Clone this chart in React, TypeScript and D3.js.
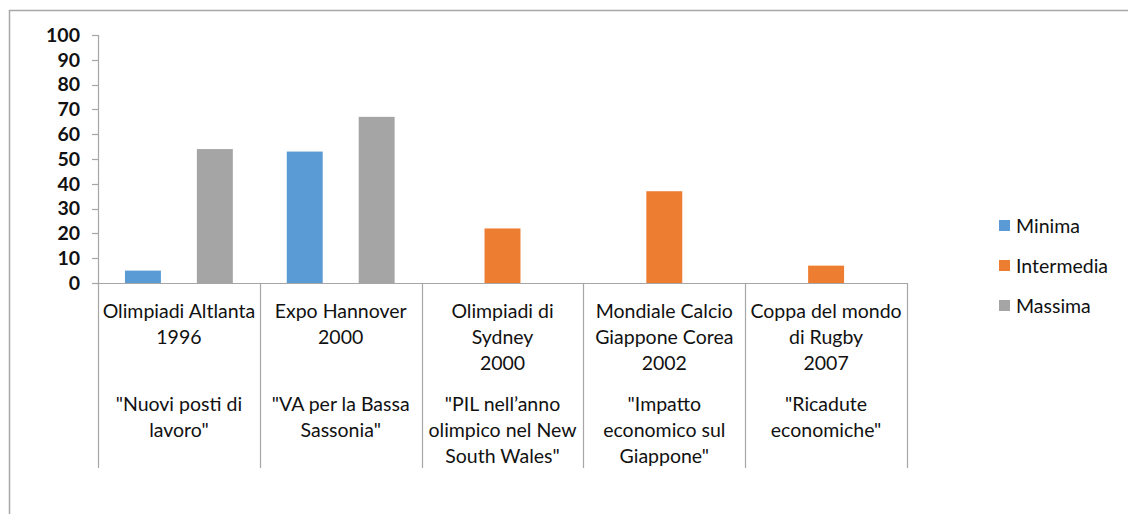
import React from "react";
import * as d3 from "d3";

const categories = ["c1", "c2", "c3", "c4", "c5"];
const titleLines: string[][] = [
  ["Olimpiadi Altlanta", "1996"],
  ["Expo Hannover", "2000"],
  ["Olimpiadi di", "Sydney", "2000"],
  ["Mondiale Calcio", "Giappone Corea", "2002"],
  ["Coppa del mondo", "di Rugby", "2007"],
];
const quoteLines: string[][] = [
  ["\"Nuovi posti di", "lavoro\""],
  ["\"VA per la Bassa", "Sassonia\""],
  ["\"PIL nell\u2019anno", "olimpico nel New", "South Wales\""],
  ["\"Impatto", "economico sul", "Giappone\""],
  ["\"Ricadute", "economiche\""],
];
const seriesNames = ["Minima", "Intermedia", "Massima"];
const seriesColors = ["#5B9BD5", "#ED7D31", "#A5A5A5"];
const minima: (number | null)[] = [5, 53, null, null, null];
const intermedia: (number | null)[] = [null, null, 22, 37, 7];
const massima: (number | null)[] = [54, 67, null, null, null];
const seriesValues = [minima, intermedia, massima];
const yTicks = [0, 10, 20, 30, 40, 50, 60, 70, 80, 90, 100];

const FONT = "Lato, 'Open Sans', sans-serif";
const GRID = "#A6A6A6";
const TXT = "#111";

export default function App() {
  const x = d3.scaleBand<string>().domain(categories).range([98, 907]).padding(0);
  const inner = d3
    .scaleBand<string>()
    .domain(seriesNames)
    .range([0, x.bandwidth()])
    .paddingInner(0)
    .paddingOuter(0.75);
  const y = d3.scaleLinear().domain([0, 100]).range([283, 35]);
  const bottom = 468;

  return (
    <svg
      width={1128}
      height={514}
      style={{ position: "absolute", left: 0, top: 0, background: "#fff" }}
      fontFamily={FONT}
    >
      <rect x={0} y={0} width={1128} height={514} fill="#fff" />
      {/* outer frame */}
      <path d={`M9.5,530 V10.5 H1140`} fill="none" stroke="#A8A8A8" strokeWidth={1.5} />

      {/* bars */}
      {seriesValues.map((vals, si) =>
        vals.map((v, ci) =>
          v == null ? null : (
            <rect
              key={`${si}-${ci}`}
              x={(x(categories[ci]) as number) + (inner(seriesNames[si]) as number)}
              y={y(v)}
              width={inner.bandwidth()}
              height={y(0) - y(v)}
              fill={seriesColors[si]}
            />
          )
        )
      )}

      {/* y axis */}
      <line x1={98.5} x2={98.5} y1={y(100)} y2={bottom} stroke={GRID} strokeWidth={1.2} />
      {yTicks.map((t) => (
        <g key={t}>
          <line x1={92} x2={98.5} y1={Math.round(y(t)) + 0.5} y2={Math.round(y(t)) + 0.5} stroke={GRID} strokeWidth={1.2} />
          <text
            x={80}
            y={y(t)}
            dy="0.35em"
            textAnchor="end"
            fontSize={19.5}
            fontWeight="bold"
            fill={TXT}
          >
            {t}
          </text>
        </g>
      ))}
      {/* x axis baseline */}
      <line x1={98} x2={907} y1={283.5} y2={283.5} stroke={GRID} strokeWidth={1.2} />
      {/* category dividers */}
      {categories.map((c) => (
        <line
          key={c}
          x1={Math.round((x(c) as number) + x.bandwidth()) + 0.5}
          x2={Math.round((x(c) as number) + x.bandwidth()) + 0.5}
          y1={283}
          y2={bottom}
          stroke={GRID}
          strokeWidth={1.2}
        />
      ))}

      {/* category labels */}
      {categories.map((c, i) => {
        const cx = (x(c) as number) + x.bandwidth() / 2;
        return (
          <g key={c} fontSize={19.5} fill={TXT} textAnchor="middle">
            {titleLines[i].map((l, j) => (
              <text key={"t" + j} x={cx} y={311 + j * 26.3} dy="0.35em">
                {l}
              </text>
            ))}
            {quoteLines[i].map((l, j) => (
              <text key={"q" + j} x={cx} y={404 + j * 26.3} dy="0.35em">
                {l}
              </text>
            ))}
          </g>
        );
      })}

      {/* legend */}
      {seriesNames.map((s, i) => (
        <g key={s}>
          <rect x={999} y={220 + i * 40} width={11} height={11} fill={seriesColors[i]} />
          <text x={1016} y={226 + i * 40} dy="0.35em" fontSize={19.5} fill={TXT}>
            {s}
          </text>
        </g>
      ))}
    </svg>
  );
}
